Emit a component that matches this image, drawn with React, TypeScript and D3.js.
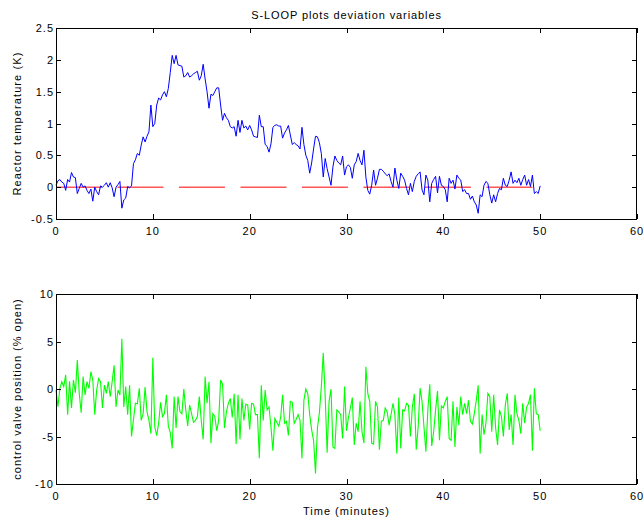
import React from "react";
import * as d3 from "d3";

// sample interval (minutes)
const DT = 0.2;

// Reactor temperature deviation (K), t = 0 .. 50 step 0.2
const tempDev: number[] = [
  0.03, 0.10, 0.12, 0.08, 0.06,
  -0.05, 0.12, 0.08, 0.23, 0.16,
  0.15, -0.10, -0.02, 0.06, 0.00,
  0.02, -0.05, -0.10, -0.03, -0.22,
  0.00, -0.07, -0.12, 0.02, 0.00,
  0.03, 0.07, 0.00, 0.07, -0.01,
  -0.15, 0.00, 0.04, 0.09, -0.33,
  -0.20, -0.17, 0.01, -0.01, 0.02,
  0.37, 0.43, 0.53, 0.50, 0.66,
  0.79, 0.71, 0.80, 0.87, 1.29,
  0.95, 1.00, 1.29, 1.40, 1.37,
  1.45, 1.50, 1.42, 1.55, 1.80,
  2.07, 1.94, 2.07, 1.92, 1.91,
  1.90, 1.73, 1.75, 1.80, 1.73,
  1.75, 1.78, 1.80, 1.82, 1.68,
  1.75, 1.93, 1.70, 1.50, 1.24,
  1.46, 1.44, 1.50, 1.56, 1.56,
  1.29, 1.05, 1.16, 1.09, 1.05,
  0.95, 0.93, 0.95, 0.80, 1.05,
  0.86, 1.05, 0.93, 0.96, 0.90,
  0.97, 0.90, 0.80, 0.79, 0.78,
  1.13, 0.95, 0.95, 0.67, 0.64,
  0.55, 0.68, 0.94, 0.97, 0.98,
  0.96, 0.96, 0.77, 0.85, 0.90,
  0.97, 0.82, 0.67, 0.70, 0.67,
  0.65, 0.60, 0.94, 0.67, 0.50,
  0.42, 0.22, 0.38, 0.60, 0.80,
  0.79, 0.70, 0.53, 0.16, 0.45,
  0.29, 0.16, 0.03, 0.32, 0.49,
  0.42, 0.38, 0.35, 0.49, 0.19,
  0.32, 0.35, 0.31, 0.14, 0.35,
  0.40, 0.53, 0.42, 0.35, 0.58,
  0.16, -0.05, -0.11, 0.03, 0.27,
  0.03, 0.14, 0.28, 0.28, 0.25,
  0.21, 0.18, 0.21, 0.09, 0.00,
  0.30, 0.11, -0.02, 0.22, 0.17,
  0.11, -0.02, -0.12, 0.06, -0.07,
  0.09, 0.17, 0.21, 0.24, -0.04,
  -0.12, 0.19, 0.11, -0.23, 0.06,
  0.12, 0.17, -0.09, 0.17, 0.03,
  0.01, -0.04, -0.23, 0.14, 0.06,
  0.11, -0.03, 0.19, 0.14, 0.11,
  -0.07, -0.04, -0.10, -0.10, -0.19,
  -0.14, -0.23, -0.28, -0.41, -0.12,
  -0.15, 0.03, 0.09, 0.06, -0.12,
  -0.25, -0.12, -0.23, -0.10, -0.02,
  -0.04, 0.14, 0.03, 0.01, 0.11,
  0.24, 0.06, 0.11, 0.07, 0.14,
  0.03, 0.12, 0.19, 0.03, 0.12,
  0.01, 0.19, -0.10, -0.07, -0.10,
  0.02,
];

// Control valve position deviation (% open), t = 0 .. 50 step 0.2
const valveDev: number[] = [
  -0.1, -1.86, 0.07, 0.77, 0.25,
  1.5, -2.7, 0.8, -2.0, 0.95,
  -0.4, 3.05, -0.46, -2.5, 1.3,
  -0.63, 0.77, 0.07, 1.82, 0.95,
  -2.7, -0.1, 1.1, 0.77, -2.0,
  0.42, -0.46, 0.77, -0.8, 0.77,
  2.5, -1.9, -0.1, -0.63, 5.3,
  -1.9, 0.25, -2.7, 0.4, -5.0,
  -3.2, -1.5, -1.55, 0.07, -3.3,
  -2.6, 0.2, -2.4, -3.3, -4.7,
  3.3, -4.0, -4.9, -3.6, -1.4,
  -2.9, -2.55, -0.6, -3.9, -4.6,
  -6.25, -0.8, -4.1, -0.8, -2.4,
  -2.6, 0.0, -2.2, -3.9, -1.7,
  -2.6, -3.5, -3.3, -2.9, -0.8,
  -3.3, -5.3, 1.3, -1.5, 0.77,
  -5.7, -2.6, -2.9, -4.4, -3.3,
  0.95, 0.5, -4.1, -2.4, -1.5,
  -1.0, -3.0, -0.5, -5.8, -0.6,
  -5.3, -1.0, -3.3, -1.6, -1.7,
  -4.25, -1.5, -1.6, -2.7, -2.7,
  -7.3, 0.4, -3.3, -0.1, -2.2,
  -1.9, -4.0, -6.5, -3.1, -3.5,
  -3.9, -3.0, -0.6, -3.6, -3.4,
  -4.9, -1.3, -1.4, -3.6, -3.2,
  -2.7, -3.3, -7.3, -1.2, 0.0,
  -0.5, -2.7, -4.3, -5.4, -8.9,
  -4.1, -2.5, 0.25, 3.8, -0.8,
  -6.7, -1.3, 0.0, -6.1, -6.25,
  -2.2, -2.4, -2.7, -5.2, 0.25,
  -4.4, -3.0, -2.0, -0.9, -5.9,
  -3.6, -4.5, -1.3, -4.5, -5.7,
  2.35, -0.5, -1.3, -5.7, -5.8,
  -1.3, -1.9, -6.4, -3.4, -3.3,
  -2.0, -2.4, -3.8, -2.7, -1.5,
  -2.7, -6.8, -0.9, -6.25, -2.2,
  -2.3, -1.5, -1.7, -5.0, -1.9,
  -0.5, -6.4, -4.0, 0.1, -1.3,
  -4.0, -6.6, -2.2, 0.5, -6.0,
  -4.5, -2.2, -0.2, -5.4, -1.8,
  -2.0, -1.3, -0.8, -5.2, -5.4,
  -1.3, -6.1, -1.9, -3.8, -0.8,
  -2.7, -1.5, -2.6, -1.2, -3.4,
  -3.7, -2.6, -1.2, 0.4, -6.8,
  -2.7, -4.8, -3.6, -0.45, -0.8,
  -4.5, -0.6, -4.1, -5.9, -2.2,
  -2.9, -5.0, -1.7, -0.45, -4.3,
  -2.7, -5.9, -0.6, -2.6, -3.3,
  -4.7, -1.5, -3.6, -1.9, -1.5,
  -0.6, -6.5, 0.07, -2.6, -2.7,
  -4.4,
];

// setpoint (zero deviation) line
const setpointTimes = [0, 50];
const setpointValues = [0, 0];
const setpointDash = 4.75; // minutes
const setpointGap = 1.6; // minutes

const xTicks = [0, 10, 20, 30, 40, 50, 60];
const tempTicks = [-0.5, 0, 0.5, 1, 1.5, 2, 2.5];
const valveTicks = [-10, -5, 0, 5, 10];

const titleText = "S-LOOP plots deviation variables";
const tempLabel = "Reactor temperature (K)";
const valveLabel = "control valve position (% open)";
const timeLabel = "Time (minutes)";

const W = 644;
const H = 521;
const LEFT = 56;
const RIGHT = 637;
const FONT = "'Liberation Sans', Arial, Helvetica, sans-serif";

type Pt = [number, number];

function Panel(props: {
  top: number;
  bottom: number;
  domain: [number, number];
  yTicks: number[];
  children: (y: d3.ScaleLinear<number, number>, x: d3.ScaleLinear<number, number>) => React.ReactNode;
}) {
  const { top, bottom, domain, yTicks } = props;
  const x = d3.scaleLinear().domain([0, 60]).range([LEFT, RIGHT]);
  const y = d3.scaleLinear().domain(domain).range([bottom, top]);
  const tl = 5;
  return (
    <g>
      <rect x={LEFT} y={top} width={RIGHT - LEFT} height={bottom - top} fill="#fff" />
      {props.children(y, x)}
      <rect
        x={LEFT + 0.5}
        y={top + 0.5}
        width={RIGHT - LEFT - 1}
        height={bottom - top}
        fill="none"
        stroke="#000"
        strokeWidth={1}
      />
      {xTicks.map((t) => {
        const px = Math.round(x(t)) + 0.5;
        return (
          <g key={"x" + t}>
            <line x1={px} x2={px} y1={bottom} y2={bottom - tl} stroke="#000" />
            <line x1={px} x2={px} y1={top} y2={top + tl} stroke="#000" />
            <text
              x={x(t)}
              y={bottom + 16}
              textAnchor="middle"
              fontFamily={FONT}
              fontSize={11}
              letterSpacing={1}
              fill="#000"
            >
              {String(t)}
            </text>
          </g>
        );
      })}
      {yTicks.map((v) => {
        const py = Math.round(y(v)) + 0.5;
        return (
          <g key={"y" + v}>
            <line x1={LEFT} x2={LEFT + tl} y1={py} y2={py} stroke="#000" />
            <line x1={RIGHT} x2={RIGHT - tl} y1={py} y2={py} stroke="#000" />
            <text
              x={LEFT - 2}
              y={y(v) + 4}
              textAnchor="end"
              fontFamily={FONT}
              fontSize={11}
              letterSpacing={1}
              fill="#000"
            >
              {String(v)}
            </text>
          </g>
        );
      })}
    </g>
  );
}

export default function App() {
  const times = tempDev.map((_, i) => i * DT);
  const tempPts: Pt[] = tempDev.map((v, i) => [times[i], v]);
  const valvePts: Pt[] = valveDev.map((v, i) => [i * DT, v]);
  const spPts: Pt[] = setpointTimes.map((t, i) => [t, setpointValues[i]]);

  return (
    <svg
      width={W}
      height={H}
      style={{ position: "absolute", left: 0, top: 0, background: "#fff" }}
    >
      <rect x={0} y={0} width={W} height={H} fill="#fff" />
      <Panel top={28} bottom={219} domain={[-0.5, 2.5]} yTicks={tempTicks}>
        {(y, x) => {
          const line = d3
            .line<Pt>()
            .x((d) => x(d[0]))
            .y((d) => y(d[1]));
          const dash = x(setpointDash) - x(0);
          const gap = x(setpointGap) - x(0);
          return (
            <g>
              <path
                d={line(spPts) || ""}
                fill="none"
                stroke="#ff0000"
                strokeWidth={1}
                strokeDasharray={`${dash} ${gap}`}
              />
              <path d={line(tempPts) || ""} fill="none" stroke="#0000ff" strokeWidth={1} />
            </g>
          );
        }}
      </Panel>
      <Panel top={294} bottom={484} domain={[-10, 10]} yTicks={valveTicks}>
        {(y, x) => {
          const line = d3
            .line<Pt>()
            .x((d) => x(d[0]))
            .y((d) => y(d[1]));
          return <path d={line(valvePts) || ""} fill="none" stroke="#00ff00" strokeWidth={1.1} />;
        }}
      </Panel>
      <text
        x={(LEFT + RIGHT) / 2}
        y={19}
        textAnchor="middle"
        fontFamily={FONT}
        fontSize={11}
        letterSpacing={0.9}
        fill="#000"
      >
        {titleText}
      </text>
      <text
        transform={`translate(21, ${(28 + 219) / 2}) rotate(-90)`}
        textAnchor="middle"
        fontFamily={FONT}
        fontSize={11}
        letterSpacing={1.1}
        fill="#000"
      >
        {tempLabel}
      </text>
      <text
        transform={`translate(21, ${(294 + 484) / 2}) rotate(-90)`}
        textAnchor="middle"
        fontFamily={FONT}
        fontSize={11}
        letterSpacing={1}
        fill="#000"
      >
        {valveLabel}
      </text>
      <text
        x={(LEFT + RIGHT) / 2}
        y={515}
        textAnchor="middle"
        fontFamily={FONT}
        fontSize={11}
        letterSpacing={1}
        fill="#000"
      >
        {timeLabel}
      </text>
    </svg>
  );
}
